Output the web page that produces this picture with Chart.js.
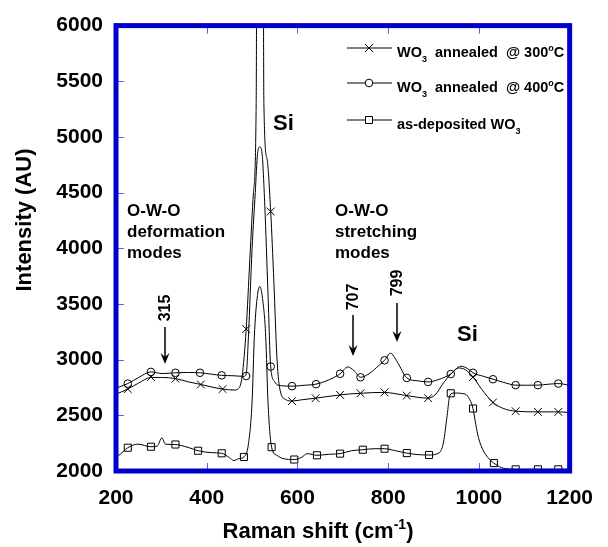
<!DOCTYPE html>
<html>
<head>
<meta charset="utf-8">
<script src="https://cdn.jsdelivr.net/npm/chart.js@4/dist/chart.umd.min.js"></script>
<style>
  body { margin: 0; background: #fff; }
  #wrap { width: 608px; height: 547px; }
</style>
</head>
<body>
<div id="wrap"><canvas id="raman" width="608" height="547"></canvas></div>
<script>
// Raman spectra of WO3 films
const shift300 = [200, 226, 250, 277, 300, 331, 360, 387, 410, 435, 460, 470, 478, 487, 495, 503, 509, 512, 523, 526, 533, 541, 548, 555, 562, 575, 588, 610, 640, 665, 694, 715, 739, 765, 792, 815, 841, 865, 888, 905, 920, 938, 955, 970, 987, 1005, 1031, 1055, 1081, 1130, 1175, 1200];
const int300 = [2690, 2736, 2790, 2840, 2840, 2830, 2800, 2777, 2755, 2736, 2727, 2740, 2850, 3275, 3900, 4500, 5300, 9000, 9000, 5300, 4800, 4330, 3700, 3000, 2720, 2640, 2628, 2640, 2654, 2668, 2683, 2692, 2698, 2704, 2706, 2695, 2677, 2662, 2654, 2690, 2780, 2870, 2925, 2910, 2844, 2740, 2616, 2560, 2537, 2531, 2531, 2525];

const shift400 = [200, 226, 250, 277, 302, 331, 360, 385, 410, 433, 460, 482, 487, 492, 500, 507, 512, 517, 522, 528, 535, 541, 550, 557, 588, 615, 641, 670, 694, 711, 725, 739, 760, 780, 792, 805, 820, 841, 865, 888, 910, 938, 960, 975, 987, 1010, 1031, 1055, 1081, 1105, 1130, 1155, 1175, 1200];
const int400 = [2745, 2785, 2840, 2890, 2875, 2882, 2885, 2882, 2870, 2859, 2855, 2850, 2870, 3211, 4000, 4500, 4850, 4910, 4850, 4383, 3600, 2938, 2800, 2771, 2762, 2770, 2780, 2820, 2873, 2935, 2900, 2842, 2880, 2950, 2994, 3058, 2980, 2836, 2810, 2800, 2820, 2871, 2941, 2920, 2882, 2850, 2824, 2795, 2771, 2770, 2771, 2780, 2785, 2770];

const shiftDep = [200, 205, 226, 248, 277, 291, 301, 309, 329, 359, 381, 410, 433, 450, 460, 470, 482, 492, 500, 505, 511, 517, 523, 530, 535, 543, 555, 568, 593, 608, 622, 643, 668, 694, 719, 744, 769, 792, 816, 841, 866, 890, 913, 922, 930, 936, 945, 970, 980, 987, 993, 999, 1010, 1020, 1033, 1050, 1065, 1100, 1200];
const intDep = [2130, 2138, 2209, 2241, 2218, 2224, 2297, 2241, 2238, 2212, 2182, 2165, 2159, 2120, 2094, 2110, 2126, 2244, 2625, 3211, 3550, 3656, 3550, 3211, 2625, 2214, 2140, 2112, 2103, 2120, 2156, 2141, 2150, 2156, 2182, 2191, 2200, 2200, 2182, 2161, 2147, 2144, 2165, 2260, 2500, 2680, 2700, 2690, 2640, 2561, 2420, 2300, 2180, 2120, 2071, 2030, 2018, 2015, 2015];

// symbol positions on each trace
const mark300X = [226, 277, 331, 387, 435, 487, 541, 588, 640, 694, 739, 792, 841, 888, 987, 1031, 1081, 1130, 1175];
const mark300Y = [2736, 2844, 2829, 2777, 2736, 3275, 4330, 2628, 2654, 2683, 2698, 2706, 2677, 2654, 2844, 2616, 2537, 2531, 2531];
const mark400X = [226, 277, 331, 385, 433, 487, 541, 588, 641, 694, 739, 792, 841, 888, 938, 987, 1031, 1081, 1130, 1175];
const mark400Y = [2785, 2890, 2882, 2882, 2859, 2853, 2938, 2762, 2780, 2873, 2842, 2994, 2836, 2800, 2871, 2882, 2824, 2771, 2771, 2785];
const markDepX = [226, 277, 331, 381, 433, 482, 543, 593, 643, 694, 744, 792, 841, 890, 938, 987, 1033, 1081, 1130, 1175];
const markDepY = [2209, 2218, 2238, 2182, 2159, 2126, 2214, 2103, 2141, 2156, 2191, 2200, 2161, 2144, 2698, 2561, 2071, 2015, 2015, 2015];

const xTicks = [200, 400, 600, 800, 1000, 1200];
const yTicks = [2000, 2500, 3000, 3500, 4000, 4500, 5000, 5500, 6000];

const FONT = "'Liberation Sans', Arial, sans-serif";

function toXY(xs, ys) {
    return xs.map((v, i) => ({ x: v, y: ys[i] }));
}

function curve(xs, ys) {
    return {
        data: toXY(xs, ys),
        borderColor: '#000',
        borderWidth: 1,
        pointRadius: 0,
        cubicInterpolationMode: 'monotone',
        fill: false,
    };
}

function marks(xs, ys, style, r) {
    return {
        data: toXY(xs, ys),
        showLine: false,
        pointStyle: style,
        pointRadius: r,
        pointBorderColor: '#000',
        pointBackgroundColor: '#fff',
        pointBorderWidth: 1,
    };
}

function drawMark(ctx, style, x, y) {
    ctx.beginPath();
    if (style === 'crossRot') {
        ctx.moveTo(x - 4, y - 4); ctx.lineTo(x + 4, y + 4);
        ctx.moveTo(x + 4, y - 4); ctx.lineTo(x - 4, y + 4);
        ctx.stroke();
    } else if (style === 'circle') {
        ctx.arc(x, y, 3.8, 0, Math.PI * 2);
        ctx.fill(); ctx.stroke();
    } else {
        ctx.rect(x - 3.5, y - 3.5, 7, 7);
        ctx.fill(); ctx.stroke();
    }
}

// text with sub/superscript pieces: [text, shift] ; shift >0 down, <0 up
function drawPieces(ctx, pieces, x, y, size, align) {
    const big = 'bold ' + size + 'px ' + FONT;
    const small = 'bold ' + Math.round(size * 0.62) + 'px ' + FONT;
    let total = 0;
    pieces.forEach(p => { ctx.font = p[1] ? small : big; total += ctx.measureText(p[0]).width; });
    let cx = align === 'center' ? x - total / 2 : x;
    ctx.textAlign = 'left';
    pieces.forEach(p => {
        ctx.font = p[1] ? small : big;
        ctx.fillText(p[0], cx, y + p[1] * size);
        cx += ctx.measureText(p[0]).width;
    });
}

const decor = {
    id: 'decor',
    afterDatasetsDraw(chart) {
        const { ctx, chartArea: a, scales: { x, y } } = chart;
        ctx.save();
        // inner ticks
        ctx.strokeStyle = '#5a5aff';
        ctx.lineWidth = 1;
        ctx.beginPath();
        xTicks.forEach(v => {
            const px = Math.round(x.getPixelForValue(v)) + 0.5;
            ctx.moveTo(px, a.top); ctx.lineTo(px, a.top + 8);
            ctx.moveTo(px, a.bottom); ctx.lineTo(px, a.bottom - 8);
        });
        yTicks.forEach(v => {
            const py = Math.round(y.getPixelForValue(v)) + 0.5;
            ctx.moveTo(a.left, py); ctx.lineTo(a.left + 8, py);
        });
        ctx.stroke();
        // frame
        ctx.strokeStyle = '#0000cc';
        ctx.lineWidth = 5;
        ctx.strokeRect(a.left, a.top, a.right - a.left, a.bottom - a.top);

        ctx.fillStyle = '#000';
        ctx.strokeStyle = '#000';
        ctx.textBaseline = 'alphabetic';

        // legend
        const legend = [
            { style: 'crossRot', y: 48, parts: [['WO', 0], ['3', 0.35], ['  annealed  @ 300', 0], ['o', -0.4], ['C', 0]] },
            { style: 'circle', y: 83, parts: [['WO', 0], ['3', 0.35], ['  annealed  @ 400', 0], ['o', -0.4], ['C', 0]] },
            { style: 'rect', y: 120, parts: [['as-deposited WO', 0], ['3', 0.35]] },
        ];
        legend.forEach(item => {
            ctx.lineWidth = 1;
            ctx.beginPath();
            ctx.moveTo(347, item.y); ctx.lineTo(392, item.y);
            ctx.stroke();
            ctx.fillStyle = '#fff';
            drawMark(ctx, item.style, 369, item.y);
            ctx.fillStyle = '#000';
            drawPieces(ctx, item.parts, 397, item.y + 9, 14.5, 'left');
        });

        // annotations
        ctx.font = 'bold 22px ' + FONT;
        ctx.textAlign = 'left';
        ctx.fillText('Si', 273, 130);
        ctx.fillText('Si', 457, 341);
        ctx.font = 'bold 17px ' + FONT;
        ['O-W-O', 'deformation', 'modes'].forEach((t, i) => ctx.fillText(t, 127, 216 + i * 21));
        ['O-W-O', 'stretching', 'modes'].forEach((t, i) => ctx.fillText(t, 335, 216 + i * 21));

        const arrows = [
            { label: '315', x: 165, ty: 308, y0: 327, y1: 364 },
            { label: '707', x: 353, ty: 297, y0: 315, y1: 356 },
            { label: '799', x: 397, ty: 283, y0: 303, y1: 342 },
        ];
        arrows.forEach(ar => {
            ctx.save();
            ctx.translate(ar.x, ar.ty);
            ctx.rotate(-Math.PI / 2);
            ctx.font = 'bold 16px ' + FONT;
            ctx.textAlign = 'center';
            ctx.textBaseline = 'middle';
            ctx.fillText(ar.label, 0, 1);
            ctx.restore();
            ctx.lineWidth = 1.5;
            ctx.beginPath();
            ctx.moveTo(ar.x, ar.y0); ctx.lineTo(ar.x, ar.y1 - 4);
            ctx.stroke();
            ctx.beginPath();
            ctx.moveTo(ar.x, ar.y1);
            ctx.lineTo(ar.x - 4.5, ar.y1 - 11);
            ctx.lineTo(ar.x, ar.y1 - 7);
            ctx.lineTo(ar.x + 4.5, ar.y1 - 11);
            ctx.closePath();
            ctx.fill();
        });

        // axis titles
        ctx.textBaseline = 'alphabetic';
        drawPieces(ctx, [['Raman shift (cm', 0], ['-1', -0.42], [')', 0]], 318, 538, 22, 'center');
        ctx.save();
        ctx.translate(25, 220);
        ctx.rotate(-Math.PI / 2);
        ctx.font = 'bold 22px ' + FONT;
        ctx.textAlign = 'center';
        ctx.textBaseline = 'middle';
        ctx.fillText('Intensity (AU)', 0, 0);
        ctx.restore();

        ctx.restore();
    }
};

new Chart(document.getElementById('raman'), {
    type: 'line',
    data: {
        datasets: [
            curve(shift300, int300),
            curve(shift400, int400),
            curve(shiftDep, intDep),
            marks(mark300X, mark300Y, 'crossRot', 5.5),
            marks(mark400X, mark400Y, 'circle', 3.8),
            marks(markDepX, markDepY, 'rect', 5),
        ]
    },
    options: {
        responsive: false,
        animation: false,
        layout: { padding: { top: 16, right: 28, left: 0, bottom: 0 } },
        plugins: { legend: { display: false }, tooltip: { enabled: false } },
        scales: {
            x: {
                type: 'linear',
                min: 200, max: 1200,
                grid: { display: false, drawTicks: false },
                border: { display: false },
                ticks: { stepSize: 200, color: '#000', padding: 15, maxRotation: 0,
                         callback: v => String(v),
                         font: { family: FONT, size: 21, weight: 'bold' } },
                afterFit: s => { s.height = 76; },
            },
            y: {
                min: 2000, max: 6000,
                grid: { display: false, drawTicks: false },
                border: { display: false },
                ticks: { stepSize: 500, color: '#000', padding: 13,
                         callback: v => String(v),
                         font: { family: FONT, size: 21, weight: 'bold' } },
                afterFit: s => { s.width = 116; },
            }
        }
    },
    plugins: [decor]
});
</script>
</body>
</html>
